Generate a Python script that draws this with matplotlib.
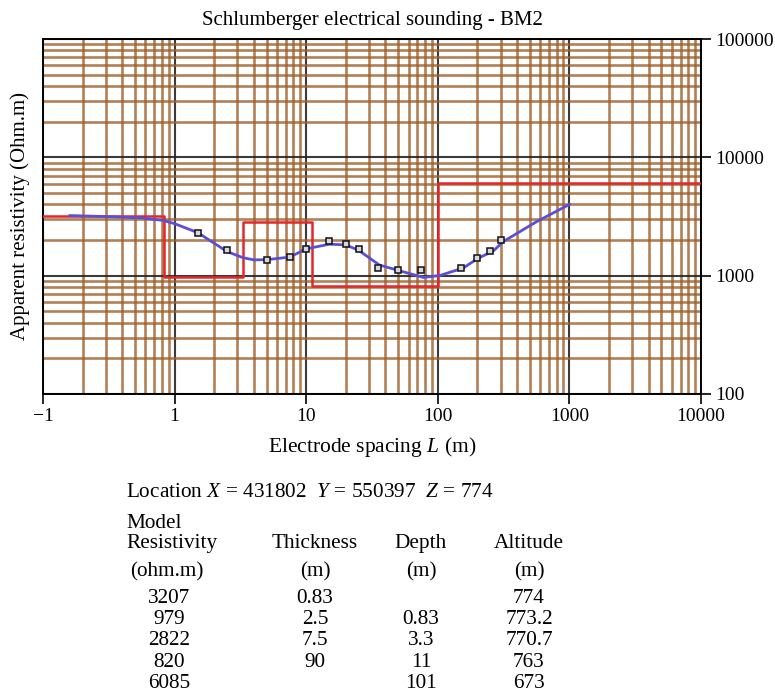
import matplotlib
matplotlib.use("Agg")
import matplotlib.pyplot as plt
from matplotlib.ticker import LogLocator, NullFormatter, FixedLocator, FixedFormatter

# ---------------- data ----------------
# measured apparent resistivity (electrode spacing L in m, rho in ohm.m)
obs_L = [1.5, 2.5, 5, 7.5, 10, 15, 20, 25, 35, 50, 75, 150, 200, 250, 300]
obs_rho = [2310, 1640, 1365, 1445, 1675, 1955, 1855, 1675, 1155, 1110, 1110, 1155, 1410, 1615, 2000]

# calculated (fitted) curve
fit_L = [0.16, 0.3, 0.55, 0.82, 1.0, 1.5, 2.5, 3.3, 4.0, 5.0, 7.5, 10, 15, 20, 25,
         36, 52, 78, 104, 156, 203, 264, 315, 565, 1000]
fit_rho = [3220, 3160, 3080, 2930, 2750, 2310, 1600, 1420, 1360, 1365, 1435, 1685, 1845,
           1820, 1640, 1230, 1095, 965, 1005, 1160, 1405, 1615, 1945, 2865, 4000]

# layered model
model_rho = [3207, 979, 2822, 820, 6085]
model_thick = [0.83, 2.5, 7.5, 90]
model_depth = [0.83, 3.3, 11, 101]
model_alt = ["774", "773.2", "770.7", "763", "673"]

x_ticks = [0.1, 1, 10, 100, 1000, 10000]
x_labels = ["\u22121", "1", "10", "100", "1000", "10000"]
y_ticks = [100, 1000, 10000, 100000]
y_labels = ["100", "1000", "10000", "100000"]

loc_X, loc_Y, loc_Z = 431802, 550397, 774

# ---------------- style ----------------
plt.rcParams["font.family"] = ["Liberation Serif", "DejaVu Serif"]
plt.rcParams["mathtext.fontset"] = "custom"
plt.rcParams["mathtext.rm"] = "Liberation Serif"
plt.rcParams["mathtext.it"] = "Liberation Serif:italic"
plt.rcParams["font.size"] = 14

W, H = 775, 693
fig = plt.figure(figsize=(W / 100, H / 100), dpi=100)
ax = fig.add_axes([43 / W, 1 - 394 / H, (701 - 43) / W, (394 - 39) / H])

ax.set_xscale("log")
ax.set_yscale("log")
ax.set_xlim(x_ticks[0], x_ticks[-1])
ax.set_ylim(y_ticks[0], y_ticks[-1])

# grid
ax.xaxis.set_minor_locator(LogLocator(base=10, subs=range(2, 10)))
ax.yaxis.set_minor_locator(LogLocator(base=10, subs=range(2, 10)))
ax.xaxis.set_minor_formatter(NullFormatter())
ax.yaxis.set_minor_formatter(NullFormatter())
ax.grid(which="minor", color="#a0602a", lw=1.9, alpha=0.8)
ax.grid(which="major", color="#262626", lw=1.5, alpha=0.9)
ax.tick_params(which="minor", length=0)
ax.set_axisbelow(True)

# model (step)
bounds = [x_ticks[0]] + model_depth + [x_ticks[-1]]
vals = model_rho + [model_rho[-1]]
ax.step(bounds, vals, where="post", color="#e5262a", lw=1.8, zorder=3)

# fitted curve
ax.plot(fit_L, fit_rho, color="#5a4fd6", lw=2.0, zorder=4)
# observations
ax.plot(obs_L, obs_rho, ls="none", marker="s", ms=4.5, mfc="#d8d8d8", mec="#111111",
        mew=1.1, zorder=5)

# ticks
ax.xaxis.set_major_locator(FixedLocator(x_ticks))
ax.xaxis.set_major_formatter(FixedFormatter(x_labels))
ax.yaxis.set_major_locator(FixedLocator(y_ticks))
ax.yaxis.set_major_formatter(FixedFormatter(y_labels))
ax.yaxis.tick_right()
ax.yaxis.set_label_position("left")
ax.tick_params(which="major", direction="out", length=7, width=1.2, labelsize=14, pad=3)

for s in ax.spines.values():
    s.set_color("black")
    s.set_linewidth(1.4)

ax.set_title("Schlumberger electrical sounding - BM2", fontsize=15, pad=10)
ax.set_xlabel("Electrode spacing $\\mathit{L}$ (m)", fontsize=15.5, labelpad=7)
ax.set_ylabel("Apparent resistivity (Ohm.m)", fontsize=15, labelpad=9)

# ---------------- text block ----------------
def ftext(px, py, s, ha="left", **kw):
    fig.text(px / W, 1 - py / H, s, ha=ha, va="baseline", fontsize=15.3, **kw)

ftext(126, 497, "Location $\\mathit{X}$ = %d  $\\mathit{Y}$ = %d  $\\mathit{Z}$ = %d"
      % (loc_X, loc_Y, loc_Z))
ftext(126, 528, "Model")
ftext(126, 548, "Resistivity")
col_x = [169, 315, 421, 529]
ftext(col_x[1], 548, "Thickness", ha="center")
ftext(col_x[2], 548, "Depth", ha="center")
ftext(col_x[3], 548, "Altitude", ha="center")
ftext(167, 576, "(ohm.m)", ha="center")
for cx in col_x[1:]:
    ftext(cx, 576, "(m)", ha="center")

row_y = [603, 624, 645, 667, 688]
for i, yy in enumerate(row_y):
    ftext(col_x[0], yy, "%g" % model_rho[i], ha="center")
    if i < len(model_thick):
        ftext(col_x[1], yy, "%g" % model_thick[i], ha="center")
    if i >= 1:
        ftext(col_x[2], yy, "%g" % model_depth[i - 1], ha="center")
    ftext(col_x[3], yy, model_alt[i], ha="center")

fig.savefig("out.png", dpi=100)
